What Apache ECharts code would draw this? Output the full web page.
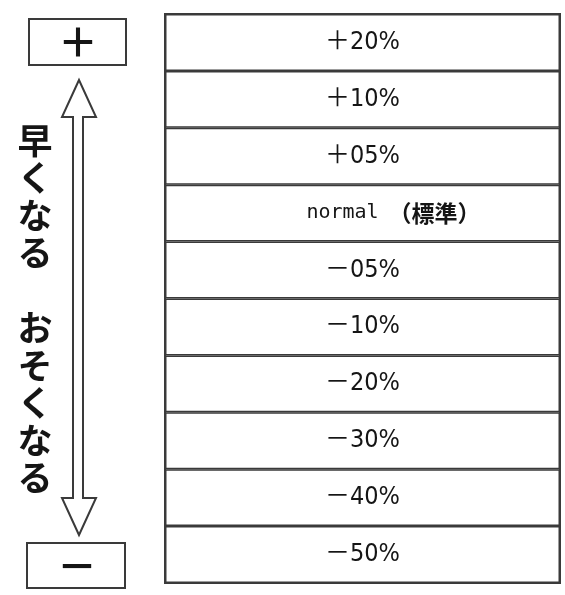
<!DOCTYPE html>
<html>
<head>
<meta charset="utf-8">
<script src="https://cdn.jsdelivr.net/npm/echarts@6/dist/echarts.min.js"></script>
<style>
  html, body { margin: 0; padding: 0; background: #fff; }
  #main { width: 565px; height: 595px; }
</style>
</head>
<body>
<div id="main"></div>
<script>
  // table rows, top to bottom
  let rowLabels = ['＋20%', '＋10%', '＋05%', 'normal（標準）', '－05%', '－10%', '－20%', '－30%', '－40%', '－50%'];
  // every cell spans the full width of the table
  let cellSpan = [1, 1, 1, 1, 1, 1, 1, 1, 1, 1];
  let endLabels = ['＋', '－'];
  let sideText = ['早くなる', 'おそくなる'];

  let myChart = echarts.init(document.getElementById('main'));
  let lineColor = '#3a3a3a';
  let textColor = '#151515';

  let vertical = (sideText[0].split('').concat([''], sideText[1].split(''))).join('\n');

  let option = {
    animation: false,
    backgroundColor: '#fff',
    grid: {
      left: 165, right: 5, top: 14, bottom: 12,
      show: true, borderColor: lineColor, borderWidth: 2, backgroundColor: 'transparent'
    },
    xAxis: {
      type: 'value', min: 0, max: 1,
      show: false
    },
    yAxis: {
      type: 'category',
      data: rowLabels,
      inverse: true,
      show: false
    },
    series: [
      {
        type: 'bar',
        data: cellSpan,
        barWidth: '100%',
        itemStyle: { color: '#fff', borderColor: lineColor, borderWidth: 1.5 },
        label: {
          show: true,
          position: 'inside',
          color: textColor,
          fontSize: 25,
          fontFamily: "'Liberation Sans Narrow', 'DejaVu Sans Condensed', 'Noto Sans CJK JP'",
          formatter: p => {
            let name = p.name;
            if (name.indexOf('normal') === 0) {
              return '{mono|normal}{cjk|' + name.slice(6) + '}';
            }
            return name;
          },
          rich: {
            mono: { fontFamily: "'DejaVu Sans Mono'", fontSize: 20, color: textColor, padding: [0, 10, 0, 62] },
            cjk: { fontFamily: "'Noto Sans CJK JP'", fontSize: 23, fontWeight: 'bold', color: textColor }
          }
        }
      }
    ],
    graphic: [
      { type: 'rect', shape: { x: 29, y: 19, width: 97, height: 46 },
        style: { fill: '#fff', stroke: lineColor, lineWidth: 2 } },
      { type: 'text', x: 78, y: 42,
        style: { text: endLabels[0], font: "bold 40px 'Noto Sans CJK JP'", fill: textColor, align: 'center', verticalAlign: 'middle' } },
      { type: 'rect', shape: { x: 27, y: 543, width: 98, height: 45 },
        style: { fill: '#fff', stroke: lineColor, lineWidth: 2 } },
      { type: 'text', x: 77, y: 566,
        style: { text: endLabels[1], font: "bold 40px 'Noto Sans CJK JP'", fill: textColor, align: 'center', verticalAlign: 'middle' } },
      { type: 'polygon',
        shape: { points: [[79, 80], [96, 117], [83, 117], [83, 498], [96, 498], [79, 535], [62, 498], [73, 498], [73, 117], [62, 117]] },
        style: { fill: '#fff', stroke: lineColor, lineWidth: 2 } },
      { type: 'text', x: 35, y: 309,
        style: { text: vertical, font: "bold 35px 'Noto Sans CJK JP'", lineHeight: 37.5, fill: textColor, align: 'center', verticalAlign: 'middle' } }
    ]
  };
  myChart.setOption(option);
</script>
</body>
</html>
